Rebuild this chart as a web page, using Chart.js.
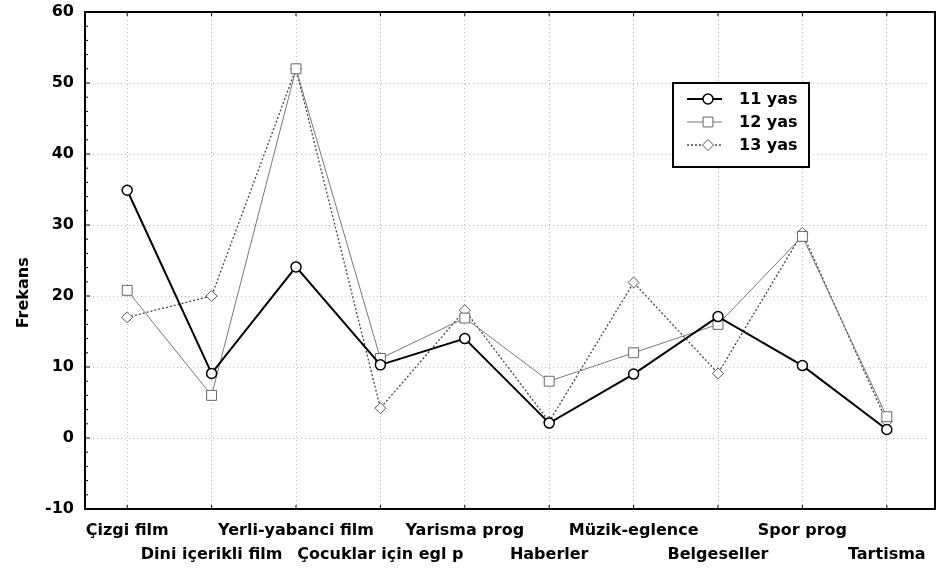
<!DOCTYPE html>
<html>
<head>
<meta charset="utf-8">
<script src="https://cdn.jsdelivr.net/npm/chart.js@4.4.0/dist/chart.umd.min.js"></script>
<style>
    html, body { margin: 0; padding: 0; background: #fff; }
</style>
</head>
<body>
<canvas id="graf" width="942" height="574"></canvas>
<script>
// Podaci sa grafa
const kategorije = ['Çizgi film', 'Dini içerikli film', 'Yerli-yabanci film', 'Çocuklar için egl p', 'Yarisma prog',
    'Haberler', 'Müzik-eglence', 'Belgeseller', 'Spor prog', 'Tartisma'];
const nazivi = ['11 yas', '12 yas', '13 yas'];
const yas11 = [34.9, 9.1, 24.1, 10.3, 14.0, 2.1, 9.0, 17.1, 10.2, 1.2];
const yas12 = [20.8, 6.0, 52.0, 11.2, 16.9, 8.0, 12.0, 16.0, 28.4, 3.0];
const yas13 = [17.0, 20.0, 52.0, 4.2, 18.0, 2.3, 21.9, 9.1, 28.9, 2.3];
const yMin = -10, yMax = 60, yKorak = 10;
const naslovY = 'Frekans';

Chart.defaults.font.family = 'DejaVu Sans';
Chart.defaults.color = '#000';

// oznake u dva reda (naizmjenicno)
const oznake = kategorije.map((k, i) => i % 2 === 0 ? [k, ''] : ['', k]);

// okvir i male crtice na osima
const okvir = {
    id: 'okvir',
    beforeDatasetsDraw(chart) {
        const { ctx, chartArea: a, scales: { x, y } } = chart;
        const desno = a.right + 6;
        ctx.save();
        ctx.strokeStyle = '#000';
        ctx.lineWidth = 1;
        ctx.beginPath();
        for (let v = yMin; v <= yMax; v += 2) {
            const py = y.getPixelForValue(v);
            ctx.moveTo(a.left, py);
            ctx.lineTo(a.left + (v % 10 === 0 ? 5 : 3), py);
        }
        kategorije.forEach((k, i) => {
            const px = x.getPixelForValue(i);
            ctx.moveTo(px, a.bottom);
            ctx.lineTo(px, a.bottom - 4);
            ctx.moveTo(px, a.top);
            ctx.lineTo(px, a.top + 4);
        });
        ctx.stroke();
        ctx.lineWidth = 2;
        ctx.strokeRect(a.left, a.top, desno - a.left, a.bottom - a.top);
        ctx.restore();
    },
    afterDraw(chart) {
        const { ctx, chartArea: a } = chart;
        ctx.save();
        // naslov y osi
        ctx.translate(24, a.top + (a.bottom - a.top) * 0.565);
        ctx.rotate(-Math.PI / 2);
        ctx.font = 'bold 16px "DejaVu Sans"';
        ctx.fillStyle = '#000';
        ctx.textAlign = 'center';
        ctx.textBaseline = 'middle';
        ctx.fillText(naslovY, 0, 0);
        ctx.restore();

        // legenda
        const lx = a.left + 588, ly = a.top + 71, w = 136, h = 84;
        ctx.save();
        ctx.fillStyle = '#fff';
        ctx.fillRect(lx, ly, w, h);
        ctx.strokeStyle = '#000';
        ctx.lineWidth = 2;
        ctx.strokeRect(lx, ly, w, h);
        chart.data.datasets.forEach((ds, i) => {
            const cy = ly + 16 + i * 23;
            ctx.save();
            ctx.strokeStyle = ds.borderColor;
            ctx.lineWidth = ds.borderWidth;
            ctx.setLineDash(ds.borderDash || []);
            ctx.beginPath();
            ctx.moveTo(lx + 14, cy);
            ctx.lineTo(lx + 49, cy);
            ctx.stroke();
            ctx.restore();
            ctx.save();
            ctx.fillStyle = ds.pointBackgroundColor;
            ctx.strokeStyle = ds.pointBorderColor;
            ctx.lineWidth = ds.pointBorderWidth;
            Chart.helpers.drawPoint(ctx, {
                pointStyle: ds.pointStyle, radius: ds.pointRadius, rotation: 0, borderWidth: ds.pointBorderWidth
            }, lx + 35, cy);
            ctx.restore();
            ctx.fillStyle = '#000';
            ctx.font = 'bold 16px "DejaVu Sans"';
            ctx.textBaseline = 'middle';
            ctx.fillText(ds.label, lx + 66, cy + 1);
        });
        ctx.restore();
    }
};

new Chart(document.getElementById('graf').getContext('2d'), {
    type: 'line',
    data: {
        labels: oznake,
        datasets: [
            {
                label: nazivi[0],
                data: yas11,
                borderColor: '#000',
                borderWidth: 2,
                pointStyle: 'circle',
                pointRadius: 5,
                pointBorderWidth: 1.5,
                pointBorderColor: '#000',
                pointBackgroundColor: '#fff',
                tension: 0
            },
            {
                label: nazivi[1],
                data: yas12,
                borderColor: '#777',
                borderWidth: 1,
                pointStyle: 'rect',
                pointRadius: 7,
                pointBorderWidth: 1,
                pointBorderColor: '#666',
                pointBackgroundColor: '#fff',
                tension: 0
            },
            {
                label: nazivi[2],
                data: yas13,
                borderColor: '#444',
                borderWidth: 1.3,
                borderDash: [2, 2],
                pointStyle: 'rectRot',
                pointRadius: 5.5,
                pointBorderWidth: 1,
                pointBorderColor: '#555',
                pointBackgroundColor: '#fff',
                tension: 0
            }
        ]
    },
    options: {
        responsive: false,
        animation: false,
        layout: { padding: { left: 0, top: 12, right: 13, bottom: 0 } },
        plugins: {
            legend: { display: false },
            tooltip: { enabled: false }
        },
        scales: {
            x: {
                offset: true,
                grid: { offset: false, color: '#b5b5b5', lineWidth: 1, drawTicks: false },
                border: { display: false, dash: [1, 3] },
                ticks: {
                    autoSkip: false,
                    maxRotation: 0,
                    padding: 10,
                    color: '#000',
                    font: { size: 16, weight: 'bold', lineHeight: 1.5 }
                },
                afterFit: s => { s.height = 65; }
            },
            y: {
                min: yMin,
                max: yMax,
                grid: { color: '#b5b5b5', lineWidth: 1, drawTicks: false },
                border: { display: false, dash: [1, 3] },
                ticks: {
                    stepSize: yKorak,
                    padding: 11,
                    color: '#000',
                    font: { size: 16, weight: 'bold' }
                },
                afterFit: s => { s.width = 85; s.paddingTop = 0; s.paddingBottom = 0; }
            }
        }
    },
    plugins: [okvir]
});
</script>
</body>
</html>
